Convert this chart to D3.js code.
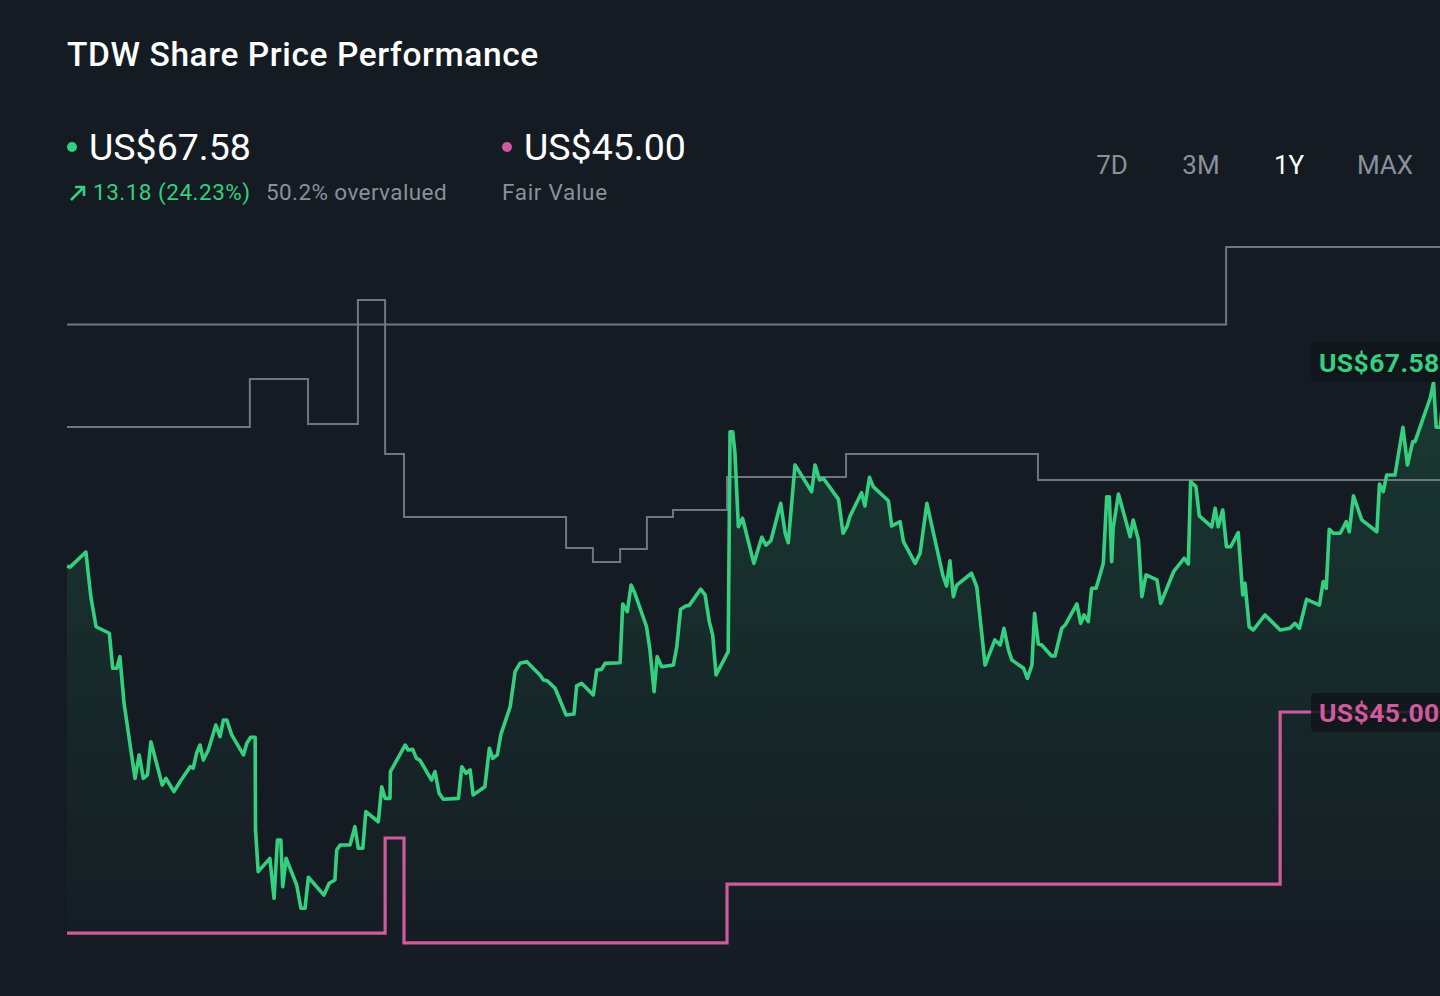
<!DOCTYPE html>
<html>
<head>
<meta charset="utf-8">
<script src="https://cdn.jsdelivr.net/npm/d3@7"></script>
<style>
body { margin: 0; background: #151b23; overflow: hidden; }
svg { display: block; font-family: Roboto, "Noto Sans", sans-serif; }
</style>
</head>
<body>
<svg class="chart" width="1440" height="996"></svg>
<script>
var priceDays = [0,0.8,5.0,6.3,7.7,11.2,12.1,13.2,14.0,15.1,18.0,19.1,20.2,21.3,22.2,23.7,25.2,26.2,28.3,29.9,32.6,33.4,34.3,35.2,36.1,37.4,39.4,40.5,41.4,42.3,43.6,46.7,47.6,48.6,49.8,49.9,50.6,53.7,54.8,55.7,56.6,57.1,58.0,60.8,61.9,63.0,63.9,68.0,69.4,70.9,71.4,72.3,74.9,76.2,77.1,78.3,79.1,82.4,83.3,84.2,85.5,85.6,89.5,90.3,91.5,92.5,93.4,96.5,97.4,98.5,99.6,103.6,104.5,105.6,106.7,107.5,110.6,111.8,112.7,113.9,114.8,117.3,118.6,119.9,121.7,123.4,125.2,126.1,127.1,129.2,132.1,134.2,134.9,136.2,139.3,140.2,141.5,142.4,146.4,147.1,148.3,149.3,150.3,153.4,154.3,155.4,156.2,157.4,160.5,161.4,162.4,163.8,164.7,167.7,168.9,170.0,170.9,171.8,175.0,175.5,176.2,176.8,177.7,178.8,181.8,183.9,185.0,186.3,188.9,190.1,190.9,192.7,197.1,198.0,199.2,200.2,204.2,205.4,206.5,207.2,210.3,211.2,212.4,213.4,217.4,218.3,220.5,221.4,224.5,225.8,227.6,231.8,232.8,233.7,234.6,235.5,239.4,240.8,243.0,245.6,247.0,248.0,249.2,250.1,253.2,254.2,255.4,256.1,257.1,258.0,260.6,261.5,263.3,264.2,267.3,268.3,269.2,270.3,271.2,272.4,274.3,275.2,275.9,276.5,276.9,278.3,281.4,282.2,283.6,284.5,285.6,288.5,289.5,292.9,295.7,296.8,297.4,298.8,299.7,303.0,303.9,304.7,305.9,306.9,308.0,310.0,311.2,311.8,312.9,314.0,317.1,321.1,323.7,325.0,326.2,328.1,331.5,332.5,333.3,334.1,335.2,337.0,338.6,339.4,340.5,342.7,346.7,347.4,348.4,349.3,351.5,353.6,354.8,356.2,356.8,360.8,361.7,362.4,363.5,365];
var priceValues = [54.40,54.35,55.32,52.44,50.50,50.08,47.82,47.82,48.57,45.56,40.72,42.23,40.72,40.94,43.08,41.69,40.29,40.72,39.86,40.50,41.47,41.37,42.34,42.87,41.90,42.55,44.16,43.41,44.48,44.48,43.52,42.23,42.98,43.37,43.37,37.39,34.70,35.56,32.98,36.74,36.74,33.73,35.56,33.84,32.34,32.34,34.34,33.19,33.95,34.16,36.10,36.42,36.42,37.60,36.21,36.21,38.57,37.92,40.18,39.43,39.43,41.15,42.87,42.55,42.59,42.01,41.90,40.61,41.15,39.75,39.37,39.43,41.47,41.05,41.26,39.65,40.18,42.66,42.01,42.23,43.52,45.34,47.60,48.14,48.25,47.82,47.39,47.06,47.02,46.53,44.81,44.87,46.68,46.85,46.10,47.71,47.75,48.14,48.18,51.97,51.47,53.19,52.66,50.50,49.00,46.31,48.57,47.92,48.03,49.21,51.63,51.84,51.88,52.92,52.55,50.83,49.97,47.39,48.89,63.08,63.08,61.69,56.95,57.50,54.59,56.27,55.77,56.05,58.46,56.53,55.92,60.94,59.21,60.94,59.97,60.08,58.72,56.53,57.00,57.60,59.15,58.29,60.14,59.54,58.63,57.00,57.28,55.99,54.59,55.24,58.46,53.84,53.13,54.76,52.44,53.19,53.95,53.08,48.03,49.65,49.32,50.40,49.00,48.35,47.82,47.17,48.03,51.37,49.39,49.32,48.61,48.61,50.40,50.61,51.97,50.72,51.26,50.83,52.98,52.98,54.59,58.89,58.89,54.70,56.85,59.06,56.31,57.39,56.10,52.44,53.84,53.52,52.01,54.05,54.92,54.55,59.86,59.54,57.65,56.95,58.14,56.95,58.03,55.66,55.66,56.57,52.55,53.30,50.50,50.29,51.26,50.29,50.40,50.72,50.40,52.27,51.90,53.41,52.98,56.79,56.53,56.53,57.28,56.63,58.94,57.39,56.63,59.71,59.21,60.29,60.29,63.37,60.94,62.44,62.44,65.24,66.25,63.37,63.37,67.58];

var fairDays = [0,84.2,89.2,174.7,321.1,365];
var fairValues = [30.74,36.87,30.10,33.90,45.00,45.00];

var highDays = [0,306.8,365];
var highValues = [70.00,75.00,75.00];

var lowDays = [0,48.4,63.8,77.0,84.2,89.2,132.1,139.2,146.4,153.5,160.4,174.7,206.2,257.0,365];
var lowValues = [63.39,66.48,63.58,71.58,61.65,57.58,55.58,54.68,55.52,57.58,58.03,60.16,61.65,59.97,59.97];

var lastPrice = 67.58, fairValue = 45.00;
var ranges = ["7D","3M","1Y","MAX"];
var rangeX = [1112,1201,1289,1385];

var green = "#35d07f", pink = "#cf5a9c", grey = "#6f7681";

var svg = d3.select(".chart");

var x = d3.scaleLinear().domain([0,365]).range([67,1446]);
var y = d3.scaleLinear().domain([fairValue,lastPrice]).range([712,362]);

function pairs(days, vals){
    var n = Math.min(days.length, vals.length), out = [];
    for(var i=0;i<n;i++) out.push({d:days[i], v:vals[i]});
    return out;
}
var price = pairs(priceDays, priceValues);

var defs = svg.append("defs");
var grad = defs.append("linearGradient")
.attr("id","areaGrad")
.attr("gradientUnits","userSpaceOnUse")
.attr("x1",0).attr("y1",380).attr("x2",0).attr("y2",980);
grad.append("stop").attr("offset","0%").attr("stop-color","#2ecf7d").attr("stop-opacity",0.17);
grad.append("stop").attr("offset","60%").attr("stop-color","#2ecf7d").attr("stop-opacity",0.06);
grad.append("stop").attr("offset","100%").attr("stop-color","#2ecf7d").attr("stop-opacity",0);

// title and header
svg.append("text").attr("x",67).attr("y",66)
.attr("fill","#ffffff").attr("font-size",33.5).attr("font-weight",500)
.attr("letter-spacing",0.6)
.text("TDW Share Price Performance");

svg.append("circle").attr("cx",72).attr("cy",147).attr("r",5).attr("fill",green);
svg.append("text").attr("x",89).attr("y",160)
.attr("fill","#ffffff").attr("font-size",37.5)
.text("US$" + lastPrice.toFixed(2));

svg.append("path").attr("d","M71,200 L84,187 M75,187 L84,187 L84,196")
.attr("fill","none").attr("stroke",green).attr("stroke-width",2.6);
svg.append("text").attr("x",93).attr("y",200)
.attr("fill",green).attr("font-size",22.5).attr("letter-spacing",0.5)
.text("13.18 (24.23%)");
svg.append("text").attr("x",266).attr("y",200)
.attr("fill","#8a9099").attr("font-size",22.5).attr("letter-spacing",0.4)
.text("50.2% overvalued");

svg.append("circle").attr("cx",507).attr("cy",147).attr("r",5).attr("fill",pink);
svg.append("text").attr("x",524).attr("y",160)
.attr("fill","#ffffff").attr("font-size",37.5)
.text("US$" + fairValue.toFixed(2));
svg.append("text").attr("x",502).attr("y",200)
.attr("fill","#8a9099").attr("font-size",22.5).attr("letter-spacing",0.7)
.text("Fair Value");

svg.selectAll(".range")
.data(ranges)
.enter().append("text")
.attr("class","range")
.attr("x", function(d,i){ return rangeX[i]; })
.attr("y",174)
.attr("text-anchor","middle")
.attr("font-size",26)
.attr("fill", function(d){ return d=="1Y" ? "#ffffff" : "#8a9099"; })
.text(function(d){ return d; });

// chart
var g = svg.append("g");

g.append("path")
.datum(price)
.attr("fill","url(#areaGrad)")
.attr("d", d3.area().x(function(d){ return x(d.d); }).y0(996).y1(function(d){ return y(d.v); }));

var stepLine = d3.line().curve(d3.curveStepAfter)
.x(function(d){ return x(d.d); }).y(function(d){ return y(d.v); });

g.append("path").datum(pairs(highDays, highValues))
.attr("fill","none").attr("stroke",grey).attr("stroke-width",2).attr("d",stepLine);
g.append("path").datum(pairs(lowDays, lowValues))
.attr("fill","none").attr("stroke",grey).attr("stroke-width",2).attr("d",stepLine);

g.append("path").datum(pairs(fairDays, fairValues))
.attr("fill","none").attr("stroke",pink).attr("stroke-width",3.2).attr("d",stepLine);

g.append("path")
.datum(price)
.attr("fill","none").attr("stroke",green).attr("stroke-width",3.6)
.attr("stroke-linejoin","round")
.attr("d", d3.line().x(function(d){ return x(d.d); }).y(function(d){ return y(d.v); }));

// end labels
function endLabel(val, color){
    var ly = y(val);
    g.append("rect").attr("x",1311).attr("y",ly-19).attr("width",140).attr("height",39)
    .attr("rx",4).attr("fill","#10151b").attr("fill-opacity",0.85);
    g.append("text").attr("x",1319).attr("y",ly+10)
    .attr("fill",color).attr("font-size",26.5).attr("font-weight",700)
    .attr("letter-spacing",0.4)
    .text("US$" + val.toFixed(2));
}
endLabel(lastPrice, green);
endLabel(fairValue, pink);
</script>
</body>
</html>
